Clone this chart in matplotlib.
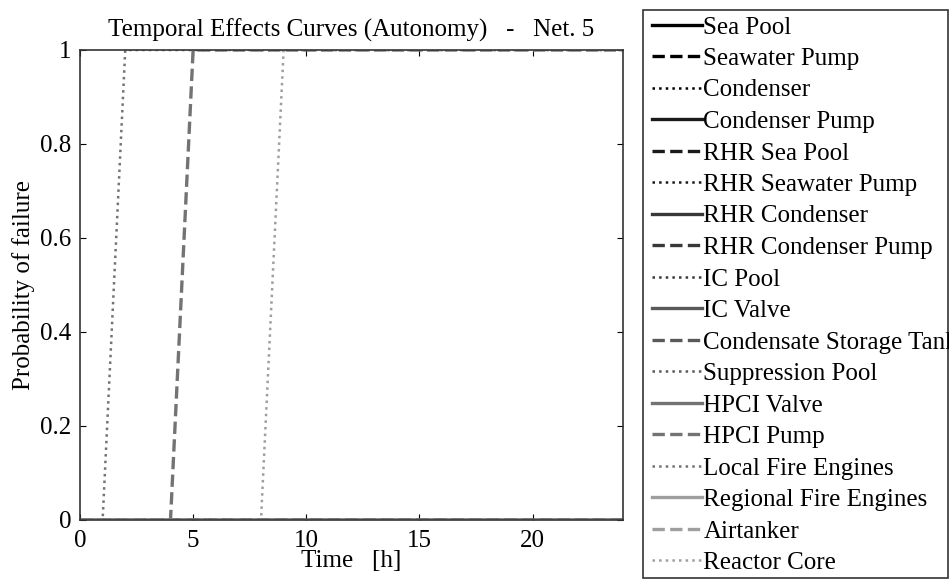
import numpy as np
from matplotlib import pyplot as plt
from matplotlib.patches import Rectangle

plt.rcParams['font.family'] = ['Liberation Serif', 'DejaVu Serif']

components = ['Sea Pool', 'Seawater Pump', 'Condenser', 'Condenser Pump',
              'RHR Sea Pool', 'RHR Seawater Pump', 'RHR Condenser',
              'RHR Condenser Pump', 'IC Pool', 'IC Valve',
              'Condensate Storage Tank', 'Suppression Pool', 'HPCI Valve',
              'HPCI Pump', 'Local Fire Engines', 'Regional Fire Engines',
              'Airtanker', 'Reactor Core']

# hour at which the failure curve starts to rise (None = stays at 0)
rise_start = [None, None, None, None, None, None, None, None, None, None,
              None, None, None, 4, 1, None, None, 8]
rise_time = 1.0
t_end = 24

grays = [0.0, 0.1, 0.22, 0.35, 0.45, 0.62]
styles = ['-', '--', ':']

fig = plt.figure(figsize=(9.49, 5.81), dpi=100)
ax = fig.add_axes([80 / 949, 1 - 520 / 581, 543 / 949, 470 / 581])

handles = []
for i, name in enumerate(components):
    g = grays[i // 3]
    ls = styles[i % 3]
    lw = 2.4 if ls != ':' else 1.8
    if rise_start[i] is None:
        t = [0, t_end]
        p = [0, 0]
    else:
        t0 = rise_start[i]
        t = [0, t0, t0 + rise_time, t_end]
        p = [0, 0, 1, 1]
    h, = ax.plot(t, p, color=(g, g, g), linestyle=ls, linewidth=lw, label=name)
    handles.append(h)

ax.set_xlim(0, t_end)
ax.set_ylim(0, 1)
ax.set_xticks([0, 5, 10, 15, 20])
ax.set_yticks([0, 0.2, 0.4, 0.6, 0.8, 1])
ax.set_yticklabels(['0', '0.2', '0.4', '0.6', '0.8', '1'])
ax.tick_params(direction='in', length=4, labelsize=18, top=True, right=True)
ax.tick_params(axis='x', pad=7)
ax.tick_params(axis='y', pad=6)
for s in ax.spines.values():
    s.set_linewidth(1.2)
    s.set_color('#333333')

ax.set_title('Temporal Effects Curves (Autonomy)   -   Net. 5', fontsize=18, pad=10)
ax.set_xlabel('Time   [h]', fontsize=18, labelpad=-1)
ax.set_ylabel('Probability of failure', fontsize=18, labelpad=4)

# legend frame drawn by hand so the long label can run past the edge
fig.patches.append(Rectangle((643 / 949, 1 - 578 / 581), 305 / 949, 568 / 581,
                             transform=fig.transFigure, fill=False,
                             edgecolor='#333333', linewidth=1.2))
fig.legend(handles=handles, loc='upper left', bbox_to_anchor=(652 / 949, 1 - 16 / 581),
           frameon=False, fontsize=18, handlelength=2.0, handletextpad=0.05,
           labelspacing=0.36, borderaxespad=0, borderpad=0)

fig.savefig('out.png', dpi=100)
